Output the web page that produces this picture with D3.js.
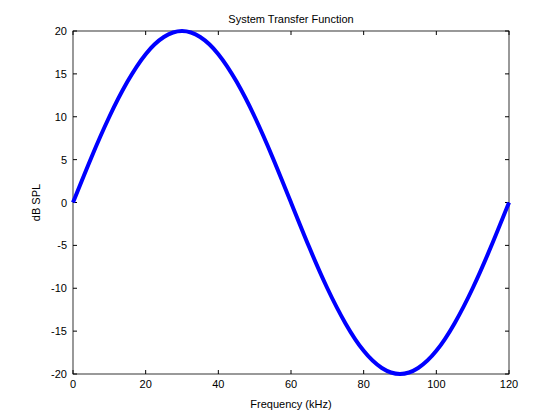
<!DOCTYPE html>
<html>
<head>
<script src="https://d3js.org/d3.v7.min.js"></script>
<style>
  body { margin: 0; background: #fff; }
  text { font-family: "Liberation Sans", Arial, sans-serif; font-size: 11px; }
</style>
</head>
<body>
<script>
// values, every 5 kHz
var freqs = [0, 5, 10, 15, 20, 25, 30, 35, 40, 45, 50, 55, 60,
             65, 70, 75, 80, 85, 90, 95, 100, 105, 110, 115, 120];
var dbspl = [0, 5.2, 10, 14.1, 17.3, 19.3, 20, 19.3, 17.3, 14.1, 10, 5.2, 0,
             -5.2, -10, -14.1, -17.3, -19.3, -20, -19.3, -17.3, -14.1, -10, -5.2, 0];
var xTicks = [0, 20, 40, 60, 80, 100, 120];
var yTicks = [-20, -15, -10, -5, 0, 5, 10, 15, 20];

var width = 560, height = 420;
var pLeft = 73, pRight = 509, pTop = 31, pBottom = 374;

var svg = d3.select("body").append("svg")
    .attr("width", width)
    .attr("height", height);

var x = d3.scaleLinear().domain([0, 120]).range([pLeft, pRight]);
var y = d3.scaleLinear().domain([-20, 20]).range([pBottom, pTop]);

svg.append("rect")
    .attr("x", pLeft).attr("y", pTop)
    .attr("width", pRight - pLeft).attr("height", pBottom - pTop)
    .attr("fill", "none").attr("stroke", "#000").attr("stroke-width", 0.8);

// ticks, inside the box, on all four sides
xTicks.forEach(function (t) {
    svg.append("line").attr("x1", x(t)).attr("x2", x(t)).attr("y1", pBottom).attr("y2", pBottom - 4).attr("stroke", "#000");
    svg.append("line").attr("x1", x(t)).attr("x2", x(t)).attr("y1", pTop).attr("y2", pTop + 4).attr("stroke", "#000");
    svg.append("text").attr("x", x(t)).attr("y", pBottom + 14).attr("text-anchor", "middle").text(t);
});
yTicks.forEach(function (t) {
    svg.append("line").attr("x1", pLeft).attr("x2", pLeft + 4).attr("y1", y(t)).attr("y2", y(t)).attr("stroke", "#000");
    svg.append("line").attr("x1", pRight).attr("x2", pRight - 4).attr("y1", y(t)).attr("y2", y(t)).attr("stroke", "#000");
    svg.append("text").attr("x", pLeft - 6).attr("y", y(t) + 4).attr("text-anchor", "end").text(t);
});

var line = d3.line()
    .x(function (d, i) { return x(freqs[i]); })
    .y(function (d) { return y(d); })
    .curve(d3.curveNatural);

svg.append("path")
    .attr("d", line(dbspl))
    .attr("fill", "none")
    .attr("stroke", "#0000ff")
    .attr("stroke-width", 4)
    .attr("stroke-linejoin", "round");

svg.append("text").attr("x", (pLeft + pRight) / 2).attr("y", 23).attr("text-anchor", "middle").text("System Transfer Function");
svg.append("text").attr("x", (pLeft + pRight) / 2).attr("y", 408).attr("text-anchor", "middle").text("Frequency (kHz)");
svg.append("text").attr("transform", "translate(40," + (pTop + pBottom) / 2 + ") rotate(-90)")
    .attr("text-anchor", "middle").text("dB SPL");
</script>
</body>
</html>
